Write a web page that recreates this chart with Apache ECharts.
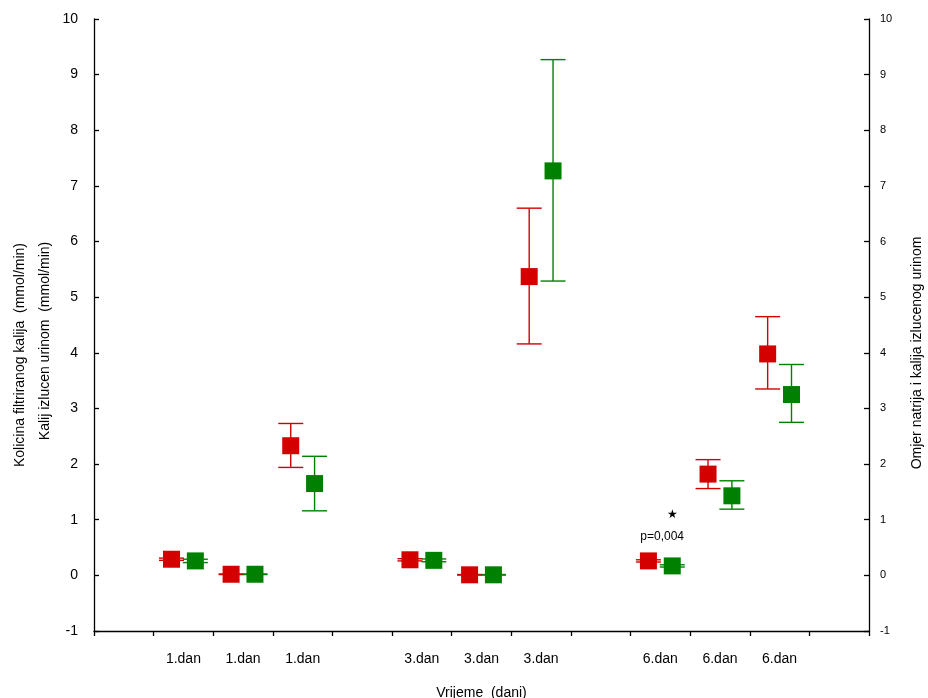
<!DOCTYPE html>
<html><head><meta charset="utf-8">
<script src="https://cdn.jsdelivr.net/npm/echarts@6/dist/echarts.min.js"></script>
<style>html,body{margin:0;padding:0;background:#fff}#c{width:928px;height:698px}</style>
</head><body><div id="c"></div>
<script>
var categories = ['', '1.dan', '1.dan', '1.dan', '', '3.dan', '3.dan', '3.dan', '', '6.dan', '6.dan', '6.dan', ''];
var groupIndex = [1, 2, 3, 5, 6, 7, 9, 10, 11];
var redMean  = [0.29, 0.02, 2.33, 0.28, 0.01, 5.37, 0.26, 1.82, 3.98];
var redLow   = [0.27, 0.015, 1.94, 0.26, 0.005, 4.16, 0.24, 1.56, 3.35];
var redHigh  = [0.31, 0.025, 2.73, 0.30, 0.015, 6.60, 0.28, 2.08, 4.65];
var greenMean = [0.26, 0.02, 1.65, 0.27, 0.01, 7.27, 0.17, 1.43, 3.25];
var greenLow  = [0.23, 0.015, 1.16, 0.245, 0.005, 5.29, 0.15, 1.19, 2.75];
var greenHigh = [0.29, 0.025, 2.14, 0.295, 0.015, 9.27, 0.19, 1.70, 3.79];
var annotX = [9];
var starY = [1.08];
var pTextY = [0.69];
var pText = ['p=0,004'];

var FONT = 'Liberation Sans, Arial, sans-serif';
var RED = '#d40000', GREEN = '#008000';

function makeSeries(name, color, side, mean, low, high) {
  var data = groupIndex.map(function (g, i) { return [g, mean[i], low[i], high[i]]; });
  return {
    type: 'custom', name: name, data: data, encode: { x: 0, y: [1, 2, 3] },
    renderItem: function (params, api) {
      var band = api.size([1, 0])[0];
      var c = api.coord([api.value(0), api.value(1)]);
      var cx = c[0] + side * band * 0.2;
      var yl = api.coord([api.value(0), api.value(2)])[1];
      var yh = api.coord([api.value(0), api.value(3)])[1];
      var cap = 12.5, s = 8.5;
      var st = { stroke: color, lineWidth: 1.4 };
      return { type: 'group', children: [
        { type: 'line', shape: { x1: cx, y1: yh, x2: cx, y2: yl }, style: st },
        { type: 'line', shape: { x1: cx - cap, y1: yh, x2: cx + cap, y2: yh }, style: st },
        { type: 'line', shape: { x1: cx - cap, y1: yl, x2: cx + cap, y2: yl }, style: st },
        { type: 'rect', shape: { x: cx - s, y: c[1] - s, width: 2 * s, height: 2 * s }, style: { fill: color } }
      ]};
    }
  };
}

var annData = annotX.map(function (x, i) { return [x, starY[i], pTextY[i], i]; });

var chart = echarts.init(document.getElementById('c'));
chart.setOption({
  animation: false,
  backgroundColor: '#fff',
  grid: { left: 94, right: 59, top: 19, bottom: 67, containLabel: false, outerBoundsMode: 'none' },
  xAxis: {
    type: 'category', data: categories, boundaryGap: true,
    name: 'Vrijeme  (dani)', nameLocation: 'middle', nameGap: 55,
    nameTextStyle: { fontFamily: FONT, fontSize: 14, color: '#000' },
    axisLine: { show: true, onZero: false, lineStyle: { color: '#000', width: 1.3 } },
    axisTick: { show: true, interval: 0, length: 5, inside: false, lineStyle: { color: '#000', width: 1.3 } },
    axisLabel: { interval: 0, margin: 21, fontFamily: FONT, fontSize: 14, color: '#000' },
    splitLine: { show: false }
  },
  yAxis: [{
    type: 'value', position: 'left', min: -1, max: 10, interval: 1,
    axisLine: { show: true, lineStyle: { color: '#000', width: 1.3 } },
    axisTick: { show: true, inside: true, length: 5, lineStyle: { color: '#000', width: 1.3 } },
    axisLabel: { margin: 16, fontFamily: FONT, fontSize: 14, color: '#000' },
    splitLine: { show: false }
  }, {
    type: 'value', position: 'right', min: -1, max: 10, interval: 1,
    axisLine: { show: true, lineStyle: { color: '#000', width: 1.3 } },
    axisTick: { show: true, inside: true, length: 5, lineStyle: { color: '#000', width: 1.3 } },
    axisLabel: { margin: 11, fontFamily: FONT, fontSize: 11, color: '#000' },
    splitLine: { show: false }
  }],
  graphic: [
    { type: 'text', x: 20, y: 355, rotation: Math.PI / 2,
      style: { text: 'Kolicina filtriranog kalija  (mmol/min)', font: '14px ' + FONT, fill: '#000', align: 'center', verticalAlign: 'middle' } },
    { type: 'text', x: 45, y: 341, rotation: Math.PI / 2,
      style: { text: 'Kalij izlucen urinom  (mmol/min)', font: '14px ' + FONT, fill: '#000', align: 'center', verticalAlign: 'middle' } },
    { type: 'text', x: 917, y: 353, rotation: Math.PI / 2,
      style: { text: 'Omjer natrija i kalija izlucenog urinom', font: '14px ' + FONT, fill: '#000', align: 'center', verticalAlign: 'middle' } }
  ],
  series: [
    makeSeries('red', RED, -1, redMean, redLow, redHigh),
    makeSeries('green', GREEN, 1, greenMean, greenLow, greenHigh),
    {
      type: 'custom', data: annData, encode: { x: 0, y: [1, 2] }, z: 5,
      renderItem: function (params, api) {
        var band = api.size([1, 0])[0];
        var ps = api.coord([api.value(0), api.value(1)]);
        var pt = api.coord([api.value(0), api.value(2)]);
        return { type: 'group', children: [
          { type: 'text', x: ps[0] + band * 0.2, y: ps[1], style: { text: '★', font: '12px DejaVu Sans', fill: '#000', align: 'center', verticalAlign: 'middle' } },
          { type: 'text', x: pt[0] + band * 0.03, y: pt[1], style: { text: pText[api.value(3)], font: '12px ' + FONT, fill: '#000', align: 'center', verticalAlign: 'middle' } }
        ]};
      }
    }
  ]
});
</script></body></html>
